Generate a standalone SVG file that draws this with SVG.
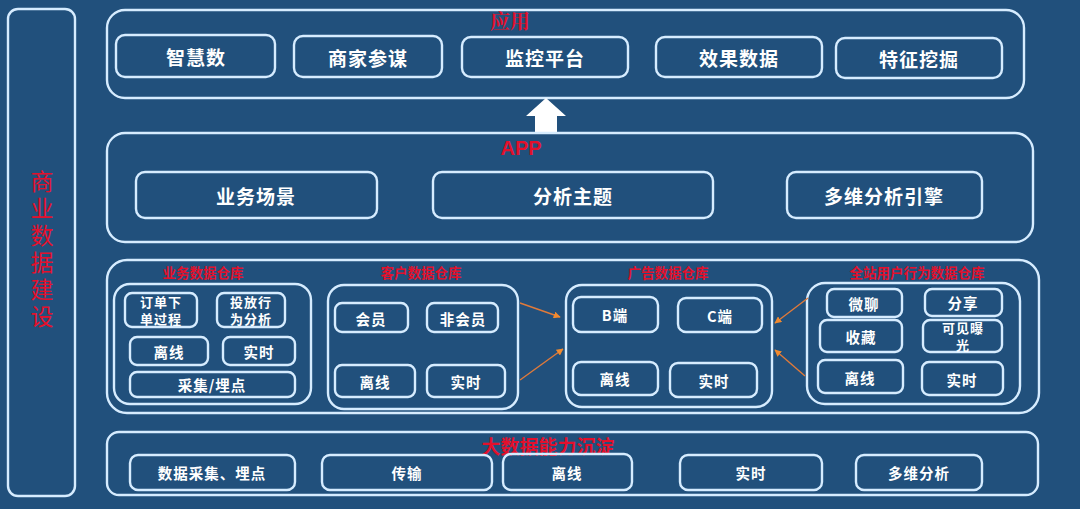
<svg xmlns="http://www.w3.org/2000/svg" width="1080" height="509" viewBox="0 0 1080 509">
<defs>
<style>
.bg{fill:#21507c}
.box{fill:none;stroke:#d6ecff;stroke-width:2.4}
.w{fill:#ffffff;font-family:"Noto Sans CJK SC","Noto Sans",sans-serif;font-weight:bold;text-anchor:middle;dominant-baseline:central}
.w20{font-size:19px;letter-spacing:1px}
.w15{font-size:14.5px;letter-spacing:1px}
.w13{font-size:13px;letter-spacing:1px}
.r{fill:#e3102c;font-family:"Noto Sans CJK SC","Noto Sans",sans-serif;font-weight:bold;text-anchor:middle;dominant-baseline:central}
.v{fill:#e3102c;font-family:"Noto Sans CJK SC","Noto Sans",sans-serif;font-size:23px;letter-spacing:4px;writing-mode:vertical-rl;text-orientation:upright}
.conn{stroke:#e07a3a;stroke-width:1.4;fill:none;marker-end:url(#ah)}
</style>
<marker id="ah" viewBox="0 0 10 10" refX="9" refY="5" markerWidth="5" markerHeight="5" orient="auto">
<path d="M0,0 L10,5 L0,10 z" fill="#f08a30"/>
</marker>
</defs>
<rect class="bg" x="0" y="0" width="1080" height="509"/>

<g id="side">
<rect class="box" x="8" y="9" width="67" height="487" rx="10"/>
<text class="v" x="42" y="170">商业数据建设</text>
</g>

<g id="layer-app">
<rect class="box" x="107" y="10" width="917" height="88" rx="18"/>
<text class="r" x="510" y="20" style="font-size:20px;font-family:'Noto Serif CJK SC','Noto Sans CJK SC',serif">应用</text>
<g id="n-zhihui"><rect class="box" x="116" y="35" width="159" height="42" rx="9"/><text class="w w20" x="196" y="56">智慧数</text></g>
<g id="n-shangjia"><rect class="box" x="294" y="36" width="148" height="41" rx="9"/><text class="w w20" x="368" y="57">商家参谋</text></g>
<g id="n-jiankong"><rect class="box" x="462" y="37" width="166" height="40" rx="9"/><text class="w w20" x="545" y="57">监控平台</text></g>
<g id="n-xiaoguo"><rect class="box" x="656" y="37" width="166" height="40" rx="9"/><text class="w w20" x="739" y="57">效果数据</text></g>
<g id="n-tezheng"><rect class="box" x="836" y="38" width="166" height="40" rx="9"/><text class="w w20" x="919" y="58">特征挖掘</text></g>
</g>

<g id="up-arrow">
<polygon points="546,98 566,116 557,116 557,133 535,133 535,116 526,116" fill="#ffffff"/>
</g>

<g id="layer-APP">
<rect class="box" x="107" y="133" width="926" height="109" rx="18"/>
<text class="r" x="521" y="148" style="font-size:20px;font-family:'Liberation Sans',Arial,sans-serif">APP</text>
<g id="n-yewu"><rect class="box" x="136" y="172" width="241" height="46" rx="9"/><text class="w w20" x="256" y="195">业务场景</text></g>
<g id="n-fenxi"><rect class="box" x="433" y="172" width="280" height="46" rx="9"/><text class="w w20" x="573" y="195">分析主题</text></g>
<g id="n-duowei"><rect class="box" x="787" y="172" width="195" height="46" rx="9"/><text class="w w20" x="884" y="195">多维分析引擎</text></g>
</g>

<g id="layer-dw">
<rect class="box" x="107" y="260" width="932" height="153" rx="20"/>

<g id="wh-yewu">
<text class="r" x="203" y="272" style="font-size:13.5px">业务数据仓库</text>
<rect class="box" x="114" y="284" width="197" height="120" rx="16"/>
<g id="n-dingdan"><rect class="box" x="125" y="293" width="72" height="34" rx="7"/><text class="w w13" x="161" y="301.5">订单下</text><text class="w w13" x="161" y="318.5">单过程</text></g>
<g id="n-toufang"><rect class="box" x="217" y="293" width="68" height="34" rx="7"/><text class="w w13" x="251" y="301.5">投放行</text><text class="w w13" x="251" y="318.5">为分析</text></g>
<g id="n-yw-lixian"><rect class="box" x="130" y="337" width="78" height="28" rx="7"/><text class="w w15" x="169" y="351">离线</text></g>
<g id="n-yw-shishi"><rect class="box" x="223" y="337" width="72" height="28" rx="7"/><text class="w w15" x="259" y="351">实时</text></g>
<g id="n-caiji"><rect class="box" x="130" y="372" width="165" height="25" rx="7"/><text class="w w15" x="212" y="384">采集/埋点</text></g>
</g>

<g id="wh-kehu">
<text class="r" x="421" y="272" style="font-size:13.5px">客户数据仓库</text>
<rect class="box" x="328" y="285" width="190" height="124" rx="16"/>
<g id="n-huiyuan"><rect class="box" x="335" y="303" width="73" height="29" rx="7"/><text class="w w15" x="371" y="318">会员</text></g>
<g id="n-feihuiyuan"><rect class="box" x="427" y="303" width="71" height="29" rx="7"/><text class="w w15" x="463" y="318">非会员</text></g>
<g id="n-kh-lixian"><rect class="box" x="335" y="365" width="80" height="32" rx="7"/><text class="w w15" x="375" y="381">离线</text></g>
<g id="n-kh-shishi"><rect class="box" x="427" y="365" width="78" height="32" rx="7"/><text class="w w15" x="466" y="381">实时</text></g>
</g>

<g id="wh-guanggao">
<text class="r" x="668" y="272" style="font-size:13.5px">广告数据仓库</text>
<rect class="box" x="566" y="285" width="206" height="122" rx="16"/>
<g id="n-bduan"><rect class="box" x="573" y="297" width="85" height="35" rx="8"/><text class="w w15" x="615" y="314">B端</text></g>
<g id="n-cduan"><rect class="box" x="678" y="298" width="84" height="34" rx="8"/><text class="w w15" x="720" y="315">C端</text></g>
<g id="n-gg-lixian"><rect class="box" x="573" y="362" width="85" height="33" rx="8"/><text class="w w15" x="615" y="378">离线</text></g>
<g id="n-gg-shishi"><rect class="box" x="670" y="363" width="87" height="34" rx="8"/><text class="w w15" x="714" y="380">实时</text></g>
</g>

<g id="wh-quanzhan">
<text class="r" x="917" y="272" style="font-size:13.5px">全站用户行为数据仓库</text>
<rect class="box" x="807" y="283" width="213" height="121" rx="18"/>
<g id="n-weiliao"><rect class="box" x="827" y="289" width="75" height="28" rx="7"/><text class="w w15" x="864" y="303">微聊</text></g>
<g id="n-fenxiang"><rect class="box" x="925" y="289" width="77" height="27" rx="7"/><text class="w w15" x="963" y="302">分享</text></g>
<g id="n-shoucang"><rect class="box" x="820" y="320" width="82" height="32" rx="7"/><text class="w w15" x="861" y="336">收藏</text></g>
<g id="n-kejian"><rect class="box" x="923" y="320" width="79" height="32" rx="7"/><text class="w w13" x="963" y="327.5">可见曝</text><text class="w w13" x="963" y="344.5">光</text></g>
<g id="n-qz-lixian"><rect class="box" x="818" y="360" width="85" height="33" rx="7"/><text class="w w15" x="860" y="377">离线</text></g>
<g id="n-qz-shishi"><rect class="box" x="922" y="362" width="81" height="33" rx="7"/><text class="w w15" x="962" y="379">实时</text></g>
</g>
</g>

<g id="connectors">
<line class="conn" x1="520" y1="303" x2="560" y2="317"/>
<line class="conn" x1="520" y1="380" x2="563" y2="349"/>
<line class="conn" x1="808" y1="298" x2="775" y2="323"/>
<line class="conn" x1="805" y1="376" x2="775" y2="350"/>
</g>

<g id="layer-bigdata">
<rect class="box" x="107" y="432" width="931" height="63" rx="12"/>
<text class="r" x="548" y="445" style="font-size:19px">大数据能力沉淀</text>
<g id="n-shujucaiji"><rect class="box" x="130" y="455" width="165" height="35" rx="8"/><text class="w w15" x="212" y="472">数据采集、埋点</text></g>
<g id="n-chuanshu"><rect class="box" x="322" y="455" width="170" height="35" rx="8"/><text class="w w15" x="407" y="472">传输</text></g>
<g id="n-bd-lixian"><rect class="box" x="503" y="454" width="129" height="36" rx="8"/><text class="w w15" x="567" y="472">离线</text></g>
<g id="n-bd-shishi"><rect class="box" x="680" y="455" width="142" height="35" rx="8"/><text class="w w15" x="751" y="472">实时</text></g>
<g id="n-bd-duowei"><rect class="box" x="856" y="455" width="126" height="35" rx="8"/><text class="w w15" x="919" y="472">多维分析</text></g>
</g>
</svg>
